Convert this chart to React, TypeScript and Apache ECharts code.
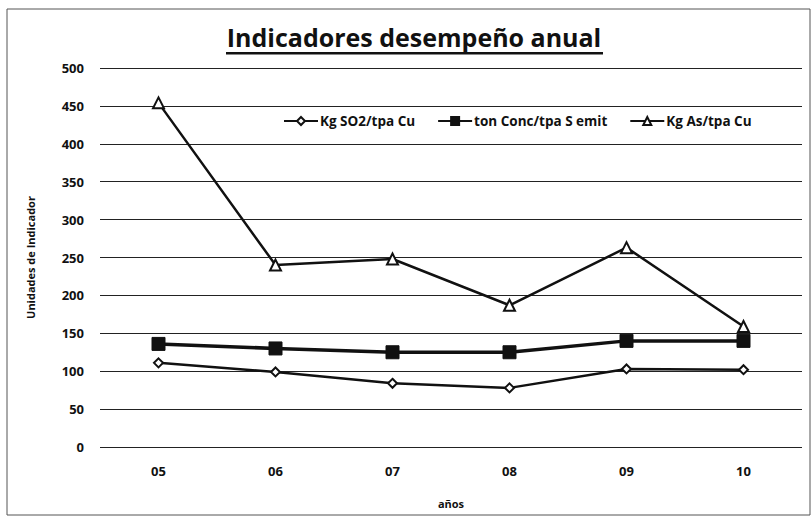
import React, { useEffect, useRef } from "react";
import * as echarts from "echarts";

const categories = ["05", "06", "07", "08", "09", "10"];
const so2Values = [111, 99, 84, 78, 103, 102];
const concValues = [136, 130, 125, 125, 140, 140];
const asValues = [454, 240, 248, 187, 263, 159];
const seriesNames = ["Kg SO2/tpa Cu", "ton Conc/tpa S emit", "Kg As/tpa Cu"];
const titleText = "Indicadores desempeño anual";
const yAxisName = "Unidades de Indicador";
const xAxisName = "años";

const FONT = "'Open Sans', 'DejaVu Sans', sans-serif";

export default function App() {
  const ref = useRef<HTMLDivElement>(null);

  useEffect(() => {
    if (!ref.current) return;
    const chart = echarts.init(ref.current, undefined, { renderer: "svg" });
    chart.setOption({
      animation: false,
      backgroundColor: "#ffffff",
      textStyle: { fontFamily: FONT },
      graphic: [
        {
          type: "rect",
          shape: { x: 7, y: 9, width: 803, height: 506 },
          style: { fill: "none", stroke: "#555", lineWidth: 1 },
          silent: true,
        },
        {
          type: "text",
          x: 414,
          y: 37,
          style: {
            text: titleText,
            fontFamily: FONT,
            fontWeight: "bold",
            fontSize: 25,
            fill: "#111",
            align: "center",
            verticalAlign: "middle",
          },
        },
        {
          type: "rect",
          shape: { x: 226, y: 52, width: 377, height: 2.5 },
          style: { fill: "#111" },
          silent: true,
        },
      ],
      legend: {
        left: 278,
        top: 109,
        itemWidth: 34,
        itemHeight: 10,
        itemGap: 22,
        textStyle: { fontFamily: FONT, fontWeight: "bold", fontSize: 13.5, color: "#111", padding: [0, 0, 0, -3] },
        data: seriesNames,
      },
      grid: { left: 100, right: 9, top: 68, bottom: 69, containLabel: false },
      xAxis: {
        type: "category",
        data: categories,
        boundaryGap: true,
        axisLine: { show: false },
        axisTick: { show: false },
        axisLabel: { fontFamily: FONT, fontWeight: "bold", fontSize: 13, color: "#111", margin: 17 },
        name: xAxisName,
        nameLocation: "middle",
        nameGap: 51,
        nameTextStyle: { fontFamily: FONT, fontWeight: "bold", fontSize: 11, color: "#111" },
      },
      yAxis: {
        type: "value",
        min: 0,
        max: 500,
        interval: 50,
        axisLine: { show: false },
        axisTick: { show: false },
        splitLine: { show: true, lineStyle: { color: "#222", width: 1 } },
        axisLabel: { fontFamily: FONT, fontWeight: "bold", fontSize: 13, color: "#111", margin: 16 },
        name: yAxisName,
        nameLocation: "middle",
        nameGap: 64,
        nameRotate: 90,
        nameTextStyle: { fontFamily: FONT, fontWeight: "bold", fontSize: 11, color: "#111" },
      },
      series: [
        {
          name: seriesNames[0],
          type: "line",
          data: so2Values,
          symbol: "diamond",
          symbolSize: 9,
          lineStyle: { color: "#111", width: 2.5 },
          itemStyle: { color: "#fff", borderColor: "#111", borderWidth: 2 },
        },
        {
          name: seriesNames[1],
          type: "line",
          data: concValues,
          symbol: "rect",
          symbolSize: 13,
          lineStyle: { color: "#111", width: 3.5 },
          itemStyle: { color: "#111", borderColor: "#111", borderWidth: 1 },
        },
        {
          name: seriesNames[2],
          type: "line",
          data: asValues,
          symbol: "triangle",
          symbolSize: 11,
          lineStyle: { color: "#111", width: 2.5 },
          itemStyle: { color: "#fff", borderColor: "#111", borderWidth: 2 },
        },
      ],
    });
    return () => chart.dispose();
  }, []);

  return (
    <div
      ref={ref}
      style={{ position: "absolute", left: 0, top: 0, width: 811, height: 516 }}
    />
  );
}
